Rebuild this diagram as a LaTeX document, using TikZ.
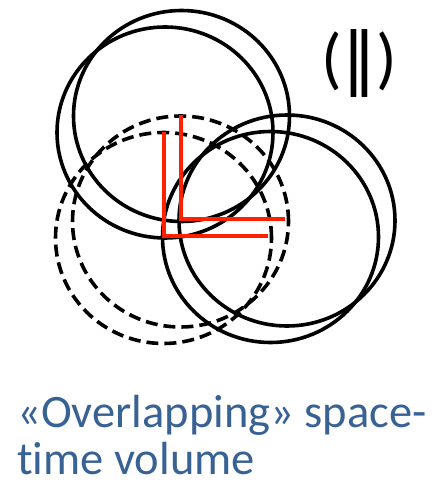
\documentclass[tikz,border=0pt]{standalone}
\usepackage{fontspec}
\setmainfont{Carlito}[Ligatures={NoCommon}]
\newfontfamily\symfont{DejaVu Sans}
\definecolor{capblue}{RGB}{56,98,148}
\definecolor{axisred}{RGB}{255,32,0}

\begin{document}
\begin{tikzpicture}[x=1pt, y=-1pt,
  ring/.style={draw, line width=3.6pt},
  dashring/.style={ring, dash pattern=on 12pt off 6pt},
  axis/.style={draw=axisred, line width=4.6pt},
  caption/.style={font=\fontsize{46.5}{47}\selectfont, text=capblue, align=left, inner sep=0pt},
  tag/.style={font=\fontsize{68}{70}\selectfont, inner sep=0pt},
]
\useasboundingbox (0,0) rectangle (439,489);

% === Centres of the volumes ===
\coordinate (upA) at (181.5,116);
\coordinate (upB) at (165,132.5);
\coordinate (leftA) at (180.5,221.5);
\coordinate (leftB) at (163.5,238);
\coordinate (rightA) at (287,220.5);
\coordinate (rightB) at (270.5,237);

% === Upper pair ===
\draw[ring] (upA) ellipse [x radius=108pt, y radius=105.5pt];
\draw[ring] (upB) ellipse [x radius=108pt, y radius=105.5pt];

% === Dashed pair ===
\draw[dashring] (leftA) ellipse [x radius=108pt, y radius=105.5pt];
\draw[dashring] (leftB) ellipse [x radius=108pt, y radius=105.5pt];

% === Right pair ===
\draw[ring] (rightA) ellipse [x radius=108pt, y radius=105.5pt];
\draw[ring] (rightB) ellipse [x radius=108pt, y radius=105.5pt];

% === Axes ===
\coordinate (tipA) at (181,115);
\coordinate (endA) at (285,219);
\coordinate (tipB) at (164,132);
\coordinate (endB) at (268,236);
\draw[axis] (tipA) |- (endA);
\draw[axis] (tipB) |- (endB);

% === Labels ===
\node[tag] (mark) at (359,64) {(\symfont ‖\normalfont)};
\node[caption, anchor=base west] (cap) at (17,474) {«Overlapping» space-\\time volume};

\end{tikzpicture}
\end{document}
